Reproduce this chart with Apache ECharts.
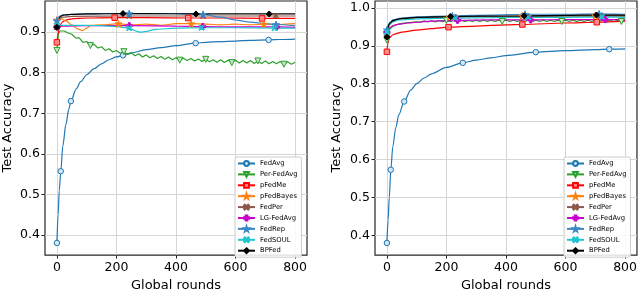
<!DOCTYPE html>
<html><head><meta charset="utf-8">
<script src="https://cdn.jsdelivr.net/npm/echarts@6/dist/echarts.min.js"></script>
<style>html,body{margin:0;padding:0;background:#fff}#c{width:640px;height:297px}</style>
</head><body><div id="c"></div>
<script>
const methods = ['FedAvg','Per-FedAvg','pFedMe','pFedBayes','FedPer','LG-FedAvg','FedRep','FedSOUL','BPFed'];
const xTicks = [0,200,400,600,800];
const yTicksL = [0.4,0.5,0.6,0.7,0.8,0.9];
const yTicksR = [0.4,0.5,0.6,0.7,0.8,0.9,1.0];

// ---------- left panel ----------
const fedAvgL = [[0,.38],[4,.45],[8,.51],[13,.557],[20,.62],[30,.672],[40,.71],[47,.73],[65,.76],[80,.778],[100,.795],[125,.81],[150,.822],[175,.832],[200,.839],[222,.843],[250,.849],[300,.857],[350,.862],[400,.867],[466,.873],[500,.875],[550,.877],[600,.878],[650,.88],[711,.881],[750,.882],[800,.883]];
const fedAvgLMarks = [0,13,47,222,466,711];
const perFedAvgL = [[0,.855],[5,.895],[10,.903],[15,.906],[25,.903],[37.5,.898],[50,.895],[62.5,.886],[75,.886],[87.5,.875],[100,.877],[112.5,.867],[125,.870],[137.5,.861],[150,.864],[162.5,.855],[175,.859],[187.5,.851],[200,.855],[212.5,.848],[225,.852],[237.5,.845],[250,.849],[262.5,.842],[275,.847],[287.5,.839],[300,.844],[312.5,.837],[325,.842],[337.5,.835],[350,.840],[362.5,.833],[375,.839],[387.5,.832],[400,.837],[412.5,.831],[425,.836],[437.5,.830],[450,.835],[462.5,.829],[475,.834],[487.5,.828],[500,.833],[512.5,.827],[525,.832],[537.5,.826],[550,.832],[562.5,.825],[575,.831],[587.5,.825],[600,.831],[612.5,.824],[625,.830],[637.5,.824],[650,.830],[662.5,.823],[675,.829],[687.5,.823],[700,.829],[712.5,.822],[725,.828],[737.5,.822],[750,.828],[762.5,.821],[775,.827],[787.5,.821],[800,.826]];
const perFedAvgLMarks = [0,112.5,225,412.5,500,587.5,675,762.5];
const pFedMeL = [[0,.875],[3,.893],[6,.905],[10,.915],[15,.922],[20,.926],[30,.930],[50,.933],[100,.935],[194,.936],[300,.936],[441,.935],[550,.935],[689,.934],[800,.934]];
const pFedMeLMarks = [0,194,441,689];
const pFedBayesL = [[0,.930],[5,.932],[15,.933],[30,.928],[50,.918],[70,.908],[86,.904],[100,.910],[113,.917],[150,.918],[207,.921],[250,.918],[300,.920],[350,.917],[400,.921],[451,.921],[500,.920],[550,.918],[600,.920],[650,.918],[695,.920],[750,.919],[800,.921]];
const pFedBayesLMarks = [0,207,451,695];
const fedPerL = [[0,.912],[5,.928],[10,.934],[20,.937],[50,.939],[243,.940],[491,.940],[735,.940],[800,.940]];
const fedPerLMarks = [0,243,491,735];
const lgFedAvgL = [[0,.913],[20,.915],[100,.916],[243,.916],[400,.915],[490,.914],[600,.913],[738,.913],[800,.912]];
const lgFedAvgLMarks = [0,243,490,738];
const fedRepL = [[0,.928],[5,.937],[10,.940],[20,.942],[50,.944],[100,.945],[243,.946],[350,.946],[450,.945],[491,.944],[550,.937],[600,.930],[650,.925],[700,.921],[736,.919],[800,.916]];
const fedRepLMarks = [0,243,491,736];
const fedSoulL = [[0,.917],[50,.917],[100,.917],[150,.916],[200,.914],[243,.910],[265,.903],[280,.900],[300,.902],[330,.907],[400,.910],[486,.911],[600,.911],[731,.910],[800,.910]];
const fedSoulLMarks = [0,243,486,731];
const bpFedL = [[0,.912],[3,.925],[6,.932],[10,.937],[15,.940],[20,.942],[30,.943],[50,.944],[100,.945],[222,.946],[300,.946],[467,.945],[600,.945],[713,.945],[800,.945]];
const bpFedLMarks = [0,222,467,713];

// ---------- right panel ----------
const fedAvgR = [[0,.38],[4,.44],[8,.50],[13,.573],[20,.635],[30,.685],[40,.718],[58,.753],[80,.783],[100,.80],[125,.815],[150,.826],[200,.843],[255,.855],[300,.862],[350,.868],[400,.874],[500,.883],[600,.887],[700,.890],[747,.891],[800,.892]];
const fedAvgRMarks = [0,13,58,255,500,747];
const perFedAvgR = [[0,.915],[5,.935],[10,.944],[20,.951],[30,.955],[50,.959],[75,.961],[100,.963],[112.5,.962],[125,.9655],[137.5,.9625],[150,.966],[162.5,.963],[175,.9665],[187.5,.9635],[200,.967],[212.5,.9635],[225,.967],[237.5,.9635],[250,.967],[262.5,.964],[275,.967],[287.5,.964],[300,.9675],[312.5,.964],[325,.9675],[337.5,.964],[350,.9675],[362.5,.964],[375,.9675],[387.5,.964],[400,.9675],[412.5,.964],[425,.9675],[437.5,.964],[450,.9675],[462.5,.964],[475,.9675],[487.5,.964],[500,.9675],[512.5,.964],[525,.9675],[537.5,.964],[550,.9675],[562.5,.964],[575,.9675],[587.5,.964],[600,.9675],[612.5,.964],[625,.9675],[637.5,.964],[650,.9675],[662.5,.964],[675,.9675],[687.5,.964],[700,.9675],[712.5,.964],[725,.9675],[737.5,.964],[750,.9675],[762.5,.964],[775,.9675],[787.5,.964],[800,.967]];
const perFedAvgRMarks = [0,200,387.5,587.5,787.5];
const pFedMeR = [[0,.884],[3,.905],[6,.915],[10,.922],[20,.929],[30,.932],[50,.936],[100,.941],[150,.945],[207,.949],[300,.952],[400,.955],[455,.956],[600,.960],[705,.962],[800,.965]];
const pFedMeRMarks = [0,207,455,705];
const pFedBayesR = [[0,.930],[5,.948],[10,.956],[20,.964],[40,.970],[100,.974],[210,.976],[300,.978],[400,.977],[455,.979],[550,.978],[600,.980],[700,.979],[750,.980],[800,.979]];
const pFedBayesRMarks = [0,210,455,700];
const fedPerR = [[0,.932],[5,.950],[10,.958],[20,.965],[40,.970],[100,.974],[225,.976],[350,.977],[470,.977],[600,.978],[718,.978],[800,.978]];
const fedPerRMarks = [0,225,470,718];
const lgFedAvgR = [[0,.936],[5,.944],[10,.948],[20,.953],[40,.957],[70,.960],[100,.962],[150,.965],[237,.967],[350,.968],[483,.968],[600,.969],[733,.969],[800,.969]];
const lgFedAvgRMarks = [0,237,483,733];
const fedRepR = [[0,.942],[5,.955],[10,.962],[20,.968],[40,.972],[100,.976],[220,.979],[350,.981],[464,.983],[600,.983],[713,.984],[800,.983]];
const fedRepRMarks = [0,220,464,713];
const fedSoulR = [[0,.936],[5,.950],[10,.957],[20,.963],[40,.968],[100,.971],[230,.973],[350,.974],[475,.975],[600,.975],[722,.976],[800,.975]];
const fedSoulRMarks = [0,230,475,722];
const bpFedR = [[0,.923],[3,.945],[6,.955],[10,.960],[20,.966],[30,.969],[50,.972],[100,.975],[214,.977],[300,.978],[461,.979],[600,.980],[704,.981],[800,.981]];
const bpFedRMarks = [0,214,461,704];

// ---------- styles ----------
const STAR = 'path://M50,0 L61,35 L98,35 L68,57 L79,91 L50,70 L21,91 L32,57 L2,35 L39,35 Z';
const XS = 'path://M0,15 L15,0 L50,35 L85,0 L100,15 L65,50 L100,85 L85,100 L50,65 L15,100 L0,85 L35,50 Z';
const PLUS = 'path://M33,0 L67,0 L67,33 L100,33 L100,67 L67,67 L67,100 L33,100 L33,67 L0,67 L0,33 L33,33 Z';
const TRI_DOWN = 'path://M0,0 L100,0 L50,90 Z';
const styles = {
  'FedAvg':     {line:'#1f77b4', symbol:'circle', size:5.5, fill:'#d6e6f3', border:'#1f77b4'},
  'Per-FedAvg': {line:'#2ca02c', symbol:TRI_DOWN, size:6, fill:'#c9e8c9', border:'#2ca02c'},
  'pFedMe':     {line:'#ff0000', symbol:'rect', size:5.5, fill:'#ff8a8a', border:'#ff0000'},
  'pFedBayes':  {line:'#ff7f0e', symbol:STAR, size:7, fill:'#ff7f0e', border:'#ff7f0e'},
  'FedPer':     {line:'#8c564b', symbol:XS, size:5.5, fill:'#8c564b', border:'#8c564b'},
  'LG-FedAvg':  {line:'#cc00cc', symbol:PLUS, size:6, fill:'#cc00cc', border:'#cc00cc'},
  'FedRep':     {line:'#3a87c8', symbol:STAR, size:7, fill:'#3a87c8', border:'#3a87c8'},
  'FedSOUL':    {line:'#1fc4cf', symbol:XS, size:5.5, fill:'#1fc4cf', border:'#1fc4cf'},
  'BPFed':      {line:'#000000', symbol:'diamond', size:6, fill:'#000000', border:'#000000'}
};

const left = [[fedAvgL,fedAvgLMarks],[perFedAvgL,perFedAvgLMarks],[pFedMeL,pFedMeLMarks],[pFedBayesL,pFedBayesLMarks],[fedPerL,fedPerLMarks],[lgFedAvgL,lgFedAvgLMarks],[fedRepL,fedRepLMarks],[fedSoulL,fedSoulLMarks],[bpFedL,bpFedLMarks]];
const right = [[fedAvgR,fedAvgRMarks],[perFedAvgR,perFedAvgRMarks],[pFedMeR,pFedMeRMarks],[pFedBayesR,pFedBayesRMarks],[fedPerR,fedPerRMarks],[lgFedAvgR,lgFedAvgRMarks],[fedRepR,fedRepRMarks],[fedSoulR,fedSoulRMarks],[bpFedR,bpFedRMarks]];

function mk(name, pairs, marks, idx) {
  const s = styles[name];
  const zig = name === 'Per-FedAvg';
  return {
    type:'line', name, xAxisIndex:idx, yAxisIndex:idx,
    data: pairs,
    smooth: zig ? false : 0.3, smoothMonotone:'x',
    showSymbol:true, showAllSymbol:true,
    symbol:s.symbol,
    symbolSize: (v) => marks.includes(v[0]) ? s.size : 0,
    lineStyle:{color:s.line, width:1.2, type:'solid'},
    itemStyle:{color:s.fill, borderColor:s.border, borderWidth:1},
    emphasis:{disabled:true}, animation:false
  };
}
const series = [];
methods.forEach((m,i) => series.push(mk(m, left[i][0], left[i][1], 0)));
methods.forEach((m,i) => series.push(mk(m, right[i][0], right[i][1], 1)));

const FONT = 'DejaVu Sans';
function xAx(gi) {
  return {type:'value', gridIndex:gi, min:-40, max:840,
    name:'Global rounds', nameLocation:'middle', nameGap:22,
    nameTextStyle:{fontFamily:FONT, fontSize:13, color:'#000'},
    axisLine:{show:false, onZero:false},
    axisTick:{show:true, length:3.5, customValues:xTicks, lineStyle:{color:'#222'}},
    axisLabel:{customValues:xTicks, margin:6, fontFamily:FONT, fontSize:12.5, color:'#000'},
    splitLine:{show:true, lineStyle:{color:'#d6d6d6', width:1}}};
}
function yAx(gi, mn, mx, ticks, gap) {
  return {type:'value', gridIndex:gi, min:mn, max:mx,
    name:'Test Accuracy', nameLocation:'middle', nameGap:gap,
    nameTextStyle:{fontFamily:FONT, fontSize:13, color:'#000'},
    axisLine:{show:false, onZero:false},
    axisTick:{show:true, length:3.5, customValues:ticks, lineStyle:{color:'#222'}},
    axisLabel:{customValues:ticks, margin:5, fontFamily:FONT, fontSize:12.5, color:'#000', formatter:v=>v.toFixed(1)},
    splitLine:{show:true, lineStyle:{color:'#d6d6d6', width:1}}};
}
function lg(x) {
  return {data:methods, orient:'vertical', left:x, top:157, itemWidth:17, itemHeight:6, itemGap:3.9,
    padding:[3,4,3,2], backgroundColor:'rgba(255,255,255,0.85)', borderColor:'#cccccc', borderWidth:1, borderRadius:2,
    textStyle:{fontFamily:FONT, fontSize:6.8, color:'#000', lineHeight:7}, selectedMode:false};
}

const chart = echarts.init(document.getElementById('c'), null, {renderer:'canvas'});
chart.setOption({
  animation:false, backgroundColor:'#fff',
  grid:[{left:44, top:1, width:263, height:261, show:true, borderColor:'#262626', borderWidth:1.2},
        {left:375, top:1, width:262, height:261, show:true, borderColor:'#262626', borderWidth:1.2}],
  xAxis:[xAx(0), xAx(1)],
  yAxis:[yAx(0, 0.35, 0.977, yTicksL, 31), yAx(1, 0.348, 1.018, yTicksR, 32)],
  legend:[lg(235), lg(564)],
  series
});
</script></body></html>
